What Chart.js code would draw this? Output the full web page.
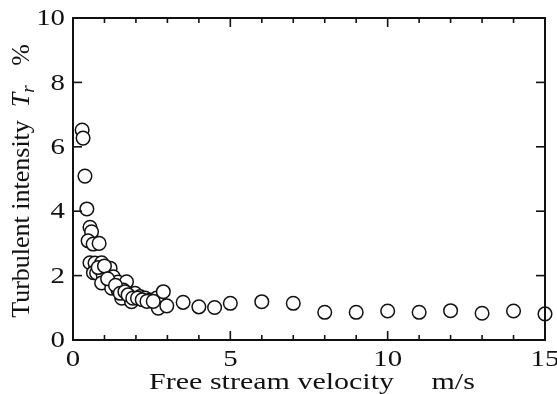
<!DOCTYPE html>
<html>
<head>
<meta charset="utf-8">
<script src="https://cdn.jsdelivr.net/npm/chart.js@4"></script>
<style>body{margin:0;background:#fff}</style>
</head>
<body>
<canvas id="c" width="557" height="394"></canvas>
<script>
// free stream velocity (m/s) and turbulent intensity Tr (%)
const velocity = [0.29, 0.32, 0.38, 0.44, 0.54, 0.59, 0.48, 0.64, 0.83,
  0.54, 0.70, 0.91, 0.65, 0.75, 0.96, 1.18, 0.91, 1.28, 1.43, 1.70, 1.23, 1.43, 1.60, 1.55,
  1.81, 1.86, 1.97, 2.13, 2.29, 2.45, 2.66, 2.87, 2.71, 2.98,
  0.80, 1.00, 1.10, 1.35, 1.50, 1.65, 1.75, 1.90, 2.05, 2.20, 2.35, 2.55,
  3.5, 4, 4.5, 5, 6, 7, 8, 9, 10, 11, 12, 13, 14, 15];
const intensity = [6.52, 6.27, 5.09, 4.07, 3.50, 3.36, 3.08, 2.98, 3.00,
  2.40, 2.39, 2.40, 2.09, 2.08, 2.02, 2.23, 1.77, 1.96, 1.80, 1.81, 1.61, 1.55, 1.55, 1.30,
  1.35, 1.19, 1.45, 1.35, 1.30, 1.24, 1.30, 1.50, 0.99, 1.06,
  2.25, 2.30, 1.90, 1.70, 1.45, 1.50, 1.40, 1.30, 1.30, 1.25, 1.20, 1.20,
  1.17, 1.03, 1.01, 1.14, 1.19, 1.14, 0.86, 0.86, 0.90, 0.86, 0.91, 0.83, 0.90, 0.81];
const xTickLabels = [0, 5, 10, 15];
const yTickLabels = [0, 2, 4, 6, 8, 10];

const serif = "'Liberation Serif', 'Times New Roman', serif";

// text drawn horizontally stretched (the scanned lettering is wider than Times)
function wideText(ctx, str, x, y, align, stretch) {
  ctx.save();
  ctx.translate(x, y);
  ctx.scale(stretch, 1);
  ctx.textAlign = align;
  ctx.fillText(str, 0, 0);
  ctx.restore();
}

const frameTicks = {
  id: 'frameTicks',
  afterDraw(chart) {
    const {ctx, chartArea: a, scales: {x, y}} = chart;
    const line = (x1, y1, x2, y2) => { ctx.beginPath(); ctx.moveTo(x1, y1); ctx.lineTo(x2, y2); ctx.stroke(); };
    ctx.save();
    ctx.strokeStyle = '#111';
    ctx.lineWidth = 2;
    ctx.strokeRect(a.left, a.top, a.right - a.left, a.bottom - a.top);
    ctx.lineWidth = 1.6;
    x.ticks.forEach(t => {
      const px = x.getPixelForValue(t.value);
      const len = xTickLabels.includes(t.value) ? 9 : 5;
      line(px, a.bottom, px, a.bottom - len);
      line(px, a.top, px, a.top + len);
    });
    y.ticks.forEach(t => {
      const py = y.getPixelForValue(t.value);
      line(a.left, py, a.left + 9, py);
      line(a.right, py, a.right - 9, py);
    });

    ctx.fillStyle = '#111';
    ctx.font = `24px ${serif}`;
    // tick labels
    ctx.textBaseline = 'middle';
    yTickLabels.forEach(v => wideText(ctx, String(v), a.left - 8, y.getPixelForValue(v) + 1, 'right', 1.2));
    ctx.textBaseline = 'alphabetic';
    xTickLabels.forEach(v => wideText(ctx, String(v), x.getPixelForValue(v), 366, 'center', 1.2));
    // x axis title
    wideText(ctx, 'Free stream velocity     m/s', 312, 389, 'center', 1.25);

    // y axis title with italic T subscript r
    ctx.translate(29, 181);
    ctx.rotate(-Math.PI / 2);
    const parts = [
      {t: 'Turbulent intensity  ', f: `26px ${serif}`, dy: 0},
      {t: 'T', f: `italic 26px ${serif}`, dy: 0},
      {t: 'r', f: `italic 19px ${serif}`, dy: 5},
      {t: '   %', f: `26px ${serif}`, dy: 0}
    ];
    let total = 0;
    parts.forEach(p => { ctx.font = p.f; p.w = ctx.measureText(p.t).width; total += p.w; });
    let cx = -total / 2;
    parts.forEach(p => { ctx.font = p.f; ctx.fillText(p.t, cx, p.dy); cx += p.w; });
    ctx.restore();
  }
};

new Chart(document.getElementById('c'), {
  type: 'scatter',
  data: {
    datasets: [{
      data: velocity.map((v, i) => ({x: v, y: intensity[i]})),
      pointRadius: 6.8,
      pointHoverRadius: 6.8,
      borderWidth: 1.5,
      borderColor: '#111',
      backgroundColor: '#fff',
      clip: false
    }]
  },
  options: {
    responsive: false,
    animation: false,
    layout: {padding: {top: 18, right: 12, left: 0, bottom: 0}},
    plugins: {legend: {display: false}, tooltip: {enabled: false}},
    scales: {
      x: {
        min: 0, max: 15,
        grid: {display: false, drawTicks: false},
        border: {display: false},
        afterFit: s => { s.height = 54; },
        ticks: {stepSize: 1, autoSkip: false, display: false}
      },
      y: {
        min: 0, max: 10,
        grid: {display: false, drawTicks: false},
        border: {display: false},
        afterFit: s => { s.width = 73; },
        ticks: {stepSize: 2, display: false}
      }
    }
  },
  plugins: [frameTicks]
});
</script>
</body>
</html>
